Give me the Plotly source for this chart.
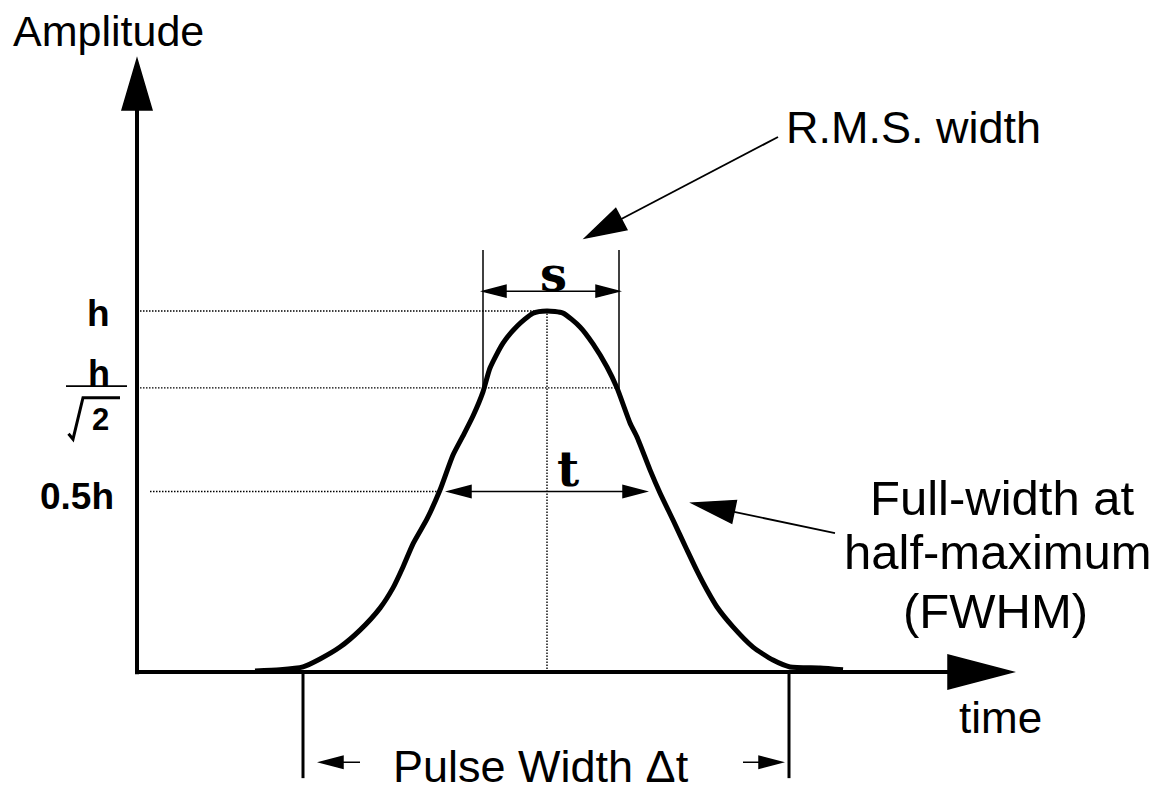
import math
import plotly.graph_objects as go

# ---- pulse profile (time in arbitrary units, amplitude in units of h) ----
time = [1.18, 1.43, 1.66, 1.83, 2.03, 2.23, 2.43, 2.56, 2.66, 2.76, 2.90, 3.03,
        3.16, 3.26, 3.36, 3.46, 3.53, 3.66, 3.80, 3.96, 4.10, 4.26, 4.43, 4.56,
        4.70, 4.80, 4.93, 5.00, 5.13, 5.23, 5.36, 5.50, 5.60, 5.70, 5.80, 5.96,
        6.16, 6.36, 6.53, 6.83, 7.06]
amplitude = [0.003, 0.006, 0.014, 0.036, 0.069, 0.116, 0.177, 0.233, 0.291, 0.355,
             0.424, 0.504, 0.601, 0.654, 0.709, 0.776, 0.842, 0.911, 0.958, 0.994,
             1.000, 0.994, 0.956, 0.909, 0.845, 0.787, 0.690, 0.651, 0.560, 0.496,
             0.421, 0.338, 0.280, 0.227, 0.180, 0.125, 0.069, 0.033, 0.014, 0.011,
             0.006]

peak_time = 4.10
level_values = [1.0, 0.787, 0.5]          # h, h/sqrt(2), 0.5h guide levels
level_ends = [4.10, 4.82, 3.04]           # where each guide stops
rms_edges = [3.46, 4.82]                  # R.M.S. width markers
fwhm_edges = [3.11, 5.09]                 # full width at half maximum
pulse_edges = [1.66, 6.52]                # total pulse width
fwhm_lines = ["Full-width at", "half-maximum", "(FWHM)"]

# ---- canvas geometry ----
W, H = 1155, 792
T_RANGE = [-1.37, 10.18]
A_RANGE = [-0.3324, 1.8615]
PX_T = W / (T_RANGE[1] - T_RANGE[0])
PX_A = H / (A_RANGE[1] - A_RANGE[0])

SANS = "Liberation Sans, Arial, sans-serif"
SERIF = "DejaVu Serif, serif"
BLACK = "#000000"

shapes = []
annotations = []


def line(t0, a0, t1, a1, width=1.5, dash=None, layer="above"):
    d = dict(type="line", xref="x", yref="y", x0=t0, y0=a0, x1=t1, y1=a1,
             line=dict(color=BLACK, width=width), layer=layer)
    if dash:
        d["line"]["dash"] = dash
    shapes.append(d)


def head(tip_t, tip_a, from_t, from_a, length, width):
    """Filled triangular arrow head pointing at (tip_t, tip_a)."""
    dx = (tip_t - from_t) * PX_T
    dy = (tip_a - from_a) * PX_A
    n = math.hypot(dx, dy)
    ux, uy = dx / n, dy / n
    bx, by = -ux * length, -uy * length
    px, py = -uy * width / 2, ux * width / 2
    c1 = (tip_t + (bx + px) / PX_T, tip_a + (by + py) / PX_A)
    c2 = (tip_t + (bx - px) / PX_T, tip_a + (by - py) / PX_A)
    path = f"M {tip_t},{tip_a} L {c1[0]},{c1[1]} L {c2[0]},{c2[1]} Z"
    shapes.append(dict(type="path", xref="x", yref="y", path=path,
                       fillcolor=BLACK, line=dict(color=BLACK, width=1.5)))
    return (tip_t + bx / PX_T, tip_a + by / PX_A)


def arrow(t0, a0, t1, a1, width=1.5, hl=23, hw=12):
    base = head(t1, a1, t0, a0, hl, hw)
    line(t0, a0, base[0], base[1], width)


def double_arrow(t0, t1, a, width=1.5, hl=23, hw=12):
    b0 = head(t0, a, t1, a, hl, hw)
    b1 = head(t1, a, t0, a, hl, hw)
    line(b0[0], a, b1[0], a, width)


def text(s, t, a, size=44, family=SANS, xanchor="center", bold=False):
    if bold:
        s = f"<b>{s}</b>"
    annotations.append(dict(text=s, x=t, y=a, xref="x", yref="y", showarrow=False,
                            xanchor=xanchor, yanchor="middle",
                            font=dict(family=family, size=size, color=BLACK)))


# ---- axes with arrow heads ----
line(0, -0.006, 0, 1.56, width=4)
head(0, 1.698, 0, 0, 51, 30)
line(-0.02, 0, 8.13, 0, width=4)
head(8.76, 0, 0, 0, 65, 34)

# ---- dotted guide levels and centre line ----
level_starts = [0.03, 0.03, 0.13]
for lv, t_start, t_end in zip(level_values, level_starts, level_ends):
    line(t_start, lv, t_end, lv, width=1.4, dash="1.5px,1.5px", layer="below")
line(peak_time, 0, peak_time, level_values[0], width=1.4, dash="1.5px,1.5px", layer="below")

# ---- R.M.S. width markers ----
for te in rms_edges:
    line(te, level_values[1] - 0.014, te, 1.169, width=1.5)
double_arrow(rms_edges[0], rms_edges[1], 1.055)
text("<b>s</b>", 4.16, 1.102, size=48, family=SERIF)

# ---- FWHM ----
double_arrow(fwhm_edges[0], fwhm_edges[1], level_values[2])
text("<b>t</b>", 4.31, 0.562, size=48, family=SERIF)

# ---- pulse width ----
for te in pulse_edges:
    line(te, 0, te, -0.294, width=3)
arrow(2.23, -0.25, 1.83, -0.25)
arrow(6.06, -0.25, 6.45, -0.25)
text("Pulse Width \u0394t", 4.04, -0.262, size=45)

# ---- callouts ----
text("R.M.S. width", 7.76, 1.507, size=45)
arrow(6.41, 1.482, 4.48, 1.202, width=1.8, hl=41, hw=24)
for txt, t_c, a_c in zip(fwhm_lines, [8.65, 8.61, 8.58], [0.482, 0.332, 0.168]):
    text(txt, t_c, a_c, size=49)
arrow(6.98, 0.385, 5.55, 0.468, width=1.8, hl=43, hw=23)

# ---- axis titles ----
text("Amplitude", -0.29, 1.776, size=43)
text("time", 8.63, -0.127, size=44)

# ---- level labels ----
text("h", -0.255, 0.993, size=37, xanchor="right", bold=True)
text("0.5h", -0.21, 0.485, size=37, xanchor="right", bold=True)
# h / sqrt(2) written as a fraction with a radical sign
text("h", -0.38, 0.828, size=36, bold=True)
line(-0.71, 0.792, -0.10, 0.792, width=1.6)
text("2", -0.37, 0.700, size=31, bold=True)
shapes.append(dict(type="path", xref="x", yref="y",
                   path="M -0.685,0.660 L -0.64,0.645 L -0.54,0.760 L -0.17,0.760",
                   line=dict(color=BLACK, width=3)))

fig = go.Figure()
fig.add_trace(go.Scatter(x=time, y=amplitude, mode="lines",
                         line=dict(color=BLACK, width=5, shape="spline", smoothing=0.6),
                         hoverinfo="skip"))

fig.update_layout(
    width=W, height=H,
    margin=dict(l=0, r=0, t=0, b=0),
    paper_bgcolor="white", plot_bgcolor="white",
    showlegend=False,
    xaxis=dict(range=T_RANGE, visible=False, fixedrange=True),
    yaxis=dict(range=A_RANGE, visible=False, fixedrange=True),
    shapes=shapes,
    annotations=annotations,
)

fig.write_html("out.html")
